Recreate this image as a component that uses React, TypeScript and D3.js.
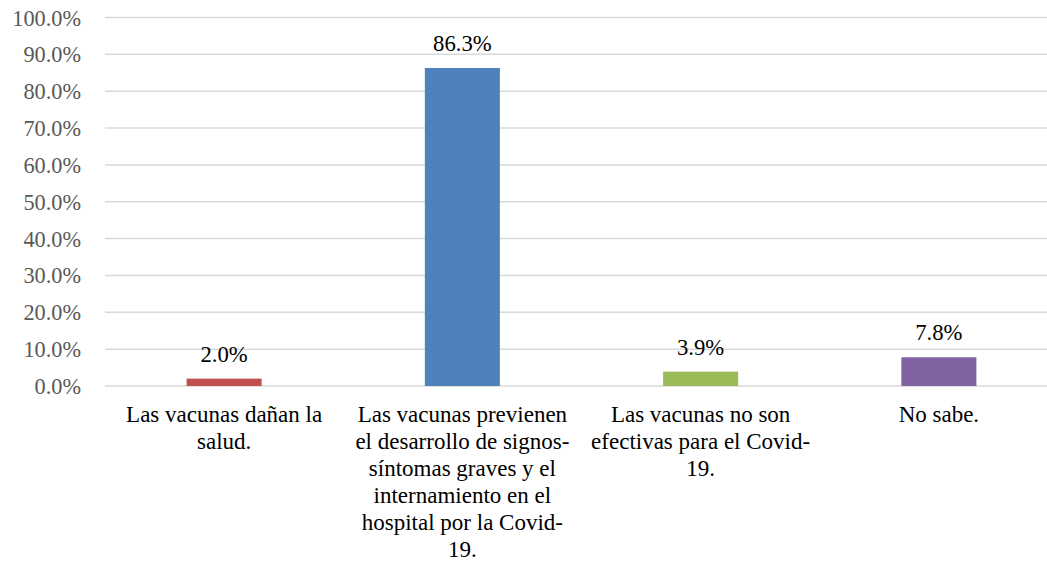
import React from "react";
import * as d3 from "d3";

const categories: string[] = ["c1", "c2", "c3", "c4"];
const categoryLines: string[][] = [
  ["Las vacunas dañan la", "salud."],
  ["Las vacunas previenen", "el desarrollo de signos-", "síntomas graves y el", "internamiento en el", "hospital por la Covid-", "19."],
  ["Las vacunas no son", "efectivas para el Covid-", "19."],
  ["No sabe."],
];
const values: number[] = [0.02, 0.863, 0.039, 0.078];
const colors: string[] = ["#C0504D", "#4F81BD", "#9BBB59", "#8064A2"];
const yTicks: number[] = [0, 0.1, 0.2, 0.3, 0.4, 0.5, 0.6, 0.7, 0.8, 0.9, 1.0];

const W = 1047;
const H = 562;
const left = 105;
const right = 1058;
const top = 17.5;
const bottom = 386;
const font = "Liberation Serif";

export default function App() {
  const x = d3.scaleBand<string>().domain(categories).range([left, right]).paddingInner(0.685).paddingOuter(0.3425);
  const y = d3.scaleLinear().domain([0, 1]).range([bottom, top]);
  const fmt = d3.format(".1%");
  const bw = x.bandwidth();
  return (
    <div style={{ position: "absolute", left: 0, top: 0 }}>
      <svg width={W} height={H} style={{ display: "block", background: "#fff", fontFamily: font }}>
        {yTicks.map((t) => (
          <g key={t}>
            <line x1={left} x2={W} y1={y(t)} y2={y(t)} stroke="#D9D9D9" strokeWidth={1.5} />
            <text x={81} y={y(t) + 8} textAnchor="end" style={{ fontFamily: font }} fontSize={22.3} fill="#595959">
              {fmt(t)}
            </text>
          </g>
        ))}
        {categories.map((c, i) => {
          const bx = x(c) as number;
          const cx = bx + bw / 2;
          return (
            <g key={c}>
              <rect x={bx} y={y(values[i])} width={bw} height={bottom - y(values[i])} fill={colors[i]} />
              <text x={cx} y={y(values[i]) - 17} textAnchor="middle" style={{ fontFamily: font }} fontSize={22.7} fill="#000">
                {fmt(values[i])}
              </text>
              {categoryLines[i].map((ln, j) => (
                <text key={j} x={cx} y={422 + j * 27} textAnchor="middle" style={{ fontFamily: font }} fontSize={23} fill="#000">
                  {ln}
                </text>
              ))}
            </g>
          );
        })}
      </svg>
    </div>
  );
}
